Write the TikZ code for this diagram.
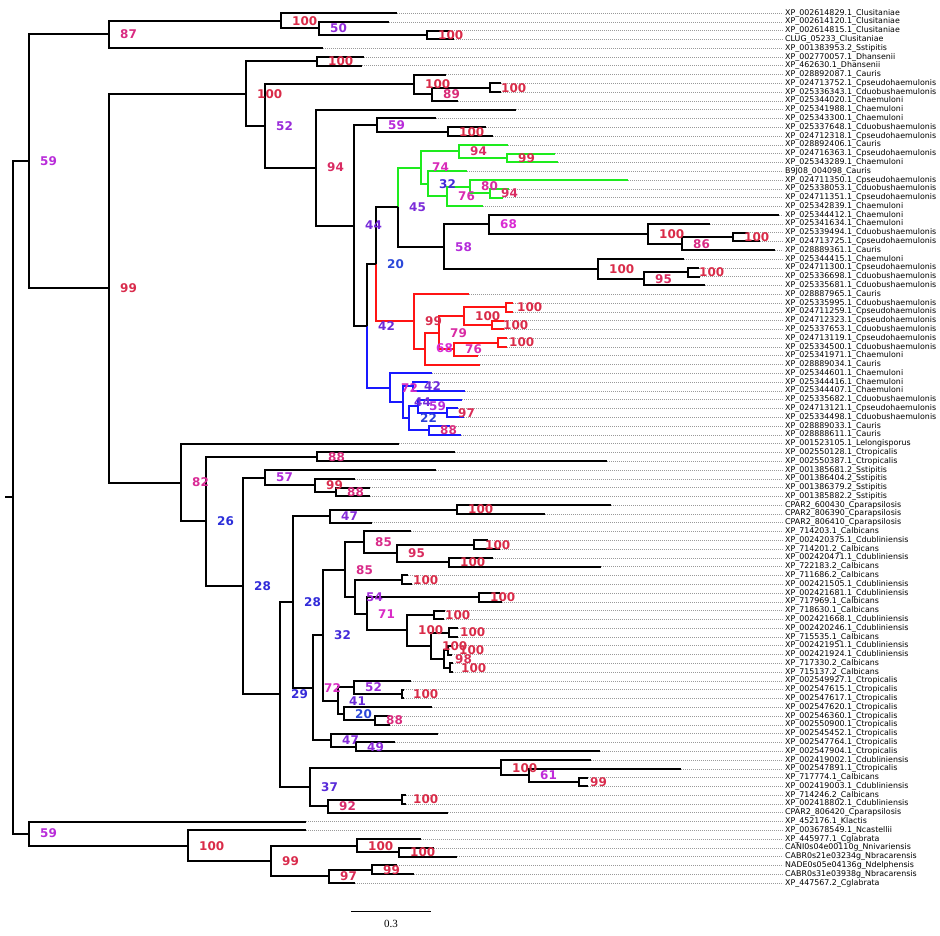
\documentclass[tikz,border=0pt]{standalone}
\usepackage{fontspec}
\usetikzlibrary{calc}
\newfontfamily\taxonfont{DejaVu Sans}
\newfontfamily\bsfont{DejaVu Sans}
\newfontfamily\barfont{Liberation Serif}
\definecolor{grn}{RGB}{30,235,30}
\definecolor{rd}{RGB}{255,20,20}
\definecolor{blu}{RGB}{25,25,255}
\tikzset{%
  branch/.style={line width=2pt,draw=#1},
  branch/.default=black,
  leader/.style={gray!80,line width=0.5pt,dash pattern=on 0.7pt off 1.3pt},
  taxon/.style={anchor=west,inner sep=0pt,font=\taxonfont\fontsize{7.9}{7.9}\selectfont},
  support/.style={anchor=west,inner sep=0pt,xshift=11pt,font=\bsfont\bfseries\fontsize{12}{12}\selectfont}
}
\newcounter{leafno}
% support value, coloured from blue (low) to red (high)
\newcommand{\bsv}[1]{%
  \pgfmathsetmacro\bshue{230+(#1-20)*1.5}%
  \definecolor{bscol}{Hsb}{\bshue,0.8,0.85}%
  \textcolor{bscol}{#1}}
% leaf: name, tip x, taxon
\newcommand{\leaf}[3]{%
  \stepcounter{leafno}%
  \pgfmathsetmacro\leafy{13+(\arabic{leafno}-1)*8.788}%
  \coordinate (#1) at (#2,\leafy);
  \node[taxon] (#1-lab) at (785,\leafy) {#3};
  \draw[leader] (#1) -- ([xshift=-2pt]#1-lab.west);}
% clade: [colour] name, x, upper child, lower child, support
\newcommand{\clade}[6][black]{%
  \path let \p1=(#4), \p2=(#5) in (#3pt,{0.5*(\y1+\y2)}) coordinate (#2);
  \draw[branch=#1] (#4) -| (#2) |- (#5);
  \node[support] (#2-bs) at (#2) {\bsv{#6}};}

\begin{document}
\begin{tikzpicture}[x=1pt,y=-1pt]
  \useasboundingbox (0,0) rectangle (940,936);
  %%% leaves
  \leaf{l1}{397}{XP\_002614829.1\_Clusitaniae}
  \leaf{l2}{389}{XP\_002614120.1\_Clusitaniae}
  \leaf{l3}{450}{XP\_002614815.1\_Clusitaniae}
  \leaf{l4}{454}{CLUG\_05233\_Clusitaniae}
  \leaf{l5}{323}{XP\_001383953.2\_Sstipitis}
  \leaf{l6}{364}{XP\_002770057.1\_Dhansenii}
  \leaf{l7}{362}{XP\_462630.1\_Dhansenii}
  \leaf{l8}{446}{XP\_028892087.1\_Cauris}
  \leaf{l9}{501}{XP\_024713752.1\_Cpseudohaemulonis}
  \leaf{l10}{501}{XP\_025336343.1\_Cduobushaemulonis}
  \leaf{l11}{458}{XP\_025344020.1\_Chaemuloni}
  \leaf{l12}{516}{XP\_025341988.1\_Chaemuloni}
  \leaf{l13}{436}{XP\_025343300.1\_Chaemuloni}
  \leaf{l14}{486}{XP\_025337648.1\_Cduobushaemulonis}
  \leaf{l15}{493}{XP\_024712318.1\_Cpseudohaemulonis}
  \leaf{l16}{508}{XP\_028892406.1\_Cauris}
  \leaf{l17}{555}{XP\_024716363.1\_Cpseudohaemulonis}
  \leaf{l18}{558}{XP\_025343289.1\_Chaemuloni}
  \leaf{l19}{467}{B9J08\_004098\_Cauris}
  \leaf{l20}{628}{XP\_024711350.1\_Cpseudohaemulonis}
  \leaf{l21}{509}{XP\_025338053.1\_Cduobushaemulonis}
  \leaf{l22}{503}{XP\_024711351.1\_Cpseudohaemulonis}
  \leaf{l23}{483}{XP\_025342839.1\_Chaemuloni}
  \leaf{l24}{779}{XP\_025344412.1\_Chaemuloni}
  \leaf{l25}{710}{XP\_025341634.1\_Chaemuloni}
  \leaf{l26}{748}{XP\_025339494.1\_Cduobushaemulonis}
  \leaf{l27}{760}{XP\_024713725.1\_Cpseudohaemulonis}
  \leaf{l28}{775}{XP\_028889361.1\_Cauris}
  \leaf{l29}{684}{XP\_025344415.1\_Chaemuloni}
  \leaf{l30}{699}{XP\_024711300.1\_Cpseudohaemulonis}
  \leaf{l31}{700}{XP\_025336698.1\_Cduobushaemulonis}
  \leaf{l32}{705}{XP\_025335681.1\_Cduobushaemulonis}
  \leaf{l33}{469}{XP\_028887965.1\_Cauris}
  \leaf{l34}{513}{XP\_025335995.1\_Cduobushaemulonis}
  \leaf{l35}{513}{XP\_024711259.1\_Cpseudohaemulonis}
  \leaf{l36}{504}{XP\_024712323.1\_Cpseudohaemulonis}
  \leaf{l37}{504}{XP\_025337653.1\_Cduobushaemulonis}
  \leaf{l38}{507}{XP\_024713119.1\_Cpseudohaemulonis}
  \leaf{l39}{507}{XP\_025334500.1\_Cduobushaemulonis}
  \leaf{l40}{478}{XP\_025341971.1\_Chaemuloni}
  \leaf{l41}{480}{XP\_028889034.1\_Cauris}
  \leaf{l42}{432}{XP\_025344601.1\_Chaemuloni}
  \leaf{l43}{428}{XP\_025344416.1\_Chaemuloni}
  \leaf{l44}{465}{XP\_025344407.1\_Chaemuloni}
  \leaf{l45}{462}{XP\_025335682.1\_Cduobushaemulonis}
  \leaf{l46}{458}{XP\_024713121.1\_Cpseudohaemulonis}
  \leaf{l47}{464}{XP\_025334498.1\_Cduobushaemulonis}
  \leaf{l48}{450}{XP\_028889033.1\_Cauris}
  \leaf{l49}{461}{XP\_028888611.1\_Cauris}
  \leaf{l50}{399}{XP\_001523105.1\_Lelongisporus}
  \leaf{l51}{455}{XP\_002550128.1\_Ctropicalis}
  \leaf{l52}{607}{XP\_002550387.1\_Ctropicalis}
  \leaf{l53}{436}{XP\_001385681.2\_Sstipitis}
  \leaf{l54}{355}{XP\_001386404.2\_Sstipitis}
  \leaf{l55}{370}{XP\_001386379.2\_Sstipitis}
  \leaf{l56}{370}{XP\_001385882.2\_Sstipitis}
  \leaf{l57}{611}{CPAR2\_600430\_Cparapsilosis}
  \leaf{l58}{545}{CPAR2\_806390\_Cparapsilosis}
  \leaf{l59}{372}{CPAR2\_806410\_Cparapsilosis}
  \leaf{l60}{411}{XP\_714203.1\_Calbicans}
  \leaf{l61}{488}{XP\_002420375.1\_Cdubliniensis}
  \leaf{l62}{500}{XP\_714201.2\_Calbicans}
  \leaf{l63}{493}{XP\_002420471.1\_Cdubliniensis}
  \leaf{l64}{601}{XP\_722183.2\_Calbicans}
  \leaf{l65}{408}{XP\_711686.2\_Calbicans}
  \leaf{l66}{412}{XP\_002421505.1\_Cdubliniensis}
  \leaf{l67}{500}{XP\_002421681.1\_Cdubliniensis}
  \leaf{l68}{502}{XP\_717969.1\_Calbicans}
  \leaf{l69}{445}{XP\_718630.1\_Calbicans}
  \leaf{l70}{444}{XP\_002421668.1\_Cdubliniensis}
  \leaf{l71}{458}{XP\_002420246.1\_Cdubliniensis}
  \leaf{l72}{458}{XP\_715535.1\_Calbicans}
  \leaf{l73}{452}{XP\_002421951.1\_Cdubliniensis}
  \leaf{l74}{452}{XP\_002421924.1\_Cdubliniensis}
  \leaf{l75}{453}{XP\_717330.2\_Calbicans}
  \leaf{l76}{453}{XP\_715137.2\_Calbicans}
  \leaf{l77}{411}{XP\_002549927.1\_Ctropicalis}
  \leaf{l78}{404}{XP\_002547615.1\_Ctropicalis}
  \leaf{l79}{404}{XP\_002547617.1\_Ctropicalis}
  \leaf{l80}{432}{XP\_002547620.1\_Ctropicalis}
  \leaf{l81}{390}{XP\_002546360.1\_Ctropicalis}
  \leaf{l82}{390}{XP\_002550900.1\_Ctropicalis}
  \leaf{l83}{438}{XP\_002545452.1\_Ctropicalis}
  \leaf{l84}{395}{XP\_002547764.1\_Ctropicalis}
  \leaf{l85}{600}{XP\_002547904.1\_Ctropicalis}
  \leaf{l86}{591}{XP\_002419002.1\_Cdubliniensis}
  \leaf{l87}{681}{XP\_002547891.1\_Ctropicalis}
  \leaf{l88}{588}{XP\_717774.1\_Calbicans}
  \leaf{l89}{588}{XP\_002419003.1\_Cdubliniensis}
  \leaf{l90}{406}{XP\_714246.2\_Calbicans}
  \leaf{l91}{406}{XP\_002418802.1\_Cdubliniensis}
  \leaf{l92}{448}{CPAR2\_806420\_Cparapsilosis}
  \leaf{l93}{306}{XP\_452176.1\_Klactis}
  \leaf{l94}{306}{XP\_003678549.1\_Ncastellii}
  \leaf{l95}{421}{XP\_445977.1\_Cglabrata}
  \leaf{l96}{434}{CANI0s04e00110g\_Nnivariensis}
  \leaf{l97}{457}{CABR0s21e03234g\_Nbracarensis}
  \leaf{l98}{397}{NADE0s05e04136g\_Ndelphensis}
  \leaf{l99}{414}{CABR0s31e03938g\_Nbracarensis}
  \leaf{l100}{355}{XP\_447567.2\_Cglabrata}
  %%% Clusitaniae
  \clade{E}{427}{l3}{l4}{100}
  \clade{D}{319}{l2}{E}{50}
  \clade{C}{281}{l1}{D}{100}
  \clade{B}{109}{C}{l5}{87}
  %%% Dhansenii and the haemulonii group
  \clade{H}{317}{l6}{l7}{100}
  \clade{L}{490}{l9}{l10}{100}
  \clade{K}{432}{L}{l11}{89}
  \clade{J}{414}{l8}{K}{100}
  \clade{P}{448}{l14}{l15}{100}
  \clade{O}{377}{l13}{P}{59}
  \clade[grn]{W}{507}{l17}{l18}{99}
  \clade[grn]{V}{459}{l16}{W}{94}
  \clade[grn]{AA}{490}{l21}{l22}{94}
  \clade[grn]{Z}{470}{l20}{AA}{80}
  \clade[grn]{Y}{447}{Z}{l23}{76}
  \clade[grn]{X}{428}{l19}{Y}{32}
  \clade[grn]{U}{421}{V}{X}{74}
  \clade{AF}{733}{l26}{l27}{100}
  \clade{AE}{682}{AF}{l28}{86}
  \clade{AD}{648}{l25}{AE}{100}
  \clade{AC}{489}{l24}{AD}{68}
  \clade{AI}{688}{l30}{l31}{100}
  \clade{AH}{644}{AI}{l32}{95}
  \clade{AG}{598}{l29}{AH}{100}
  \clade{AB}{444}{AC}{AG}{58}
  \clade{S}{398}{U}{AB}{45}
  \draw[branch=grn] (S) |- (U);
  \clade[rd]{AN}{506}{l34}{l35}{100}
  \clade[rd]{AO}{492}{l36}{l37}{100}
  \clade[rd]{AM}{464}{AN}{AO}{100}
  \clade[rd]{AQ}{498}{l38}{l39}{100}
  \clade[rd]{AP}{454}{AQ}{l40}{76}
  \clade[rd]{AL}{439}{AM}{AP}{79}
  \clade[rd]{AK}{425}{AL}{l41}{68}
  \clade[rd]{AJ}{414}{l33}{AK}{99}
  \clade{R}{376}{S}{AJ}{20}
  \draw[branch=rd] (R) |- (AJ);
  \clade[blu]{AT}{413}{l43}{l44}{42}
  \clade[blu]{AW}{447}{l46}{l47}{97}
  \clade[blu]{AV}{418}{l45}{AW}{59}
  \clade[blu]{AX}{429}{l48}{l49}{88}
  \clade[blu]{AU}{409}{AV}{AX}{22}
  \clade[blu]{AS}{403}{AT}{AU}{44}
  \clade[blu]{AR}{390}{l42}{AS}{72}
  \clade{Q}{367}{R}{AR}{42}
  \draw[branch=blu] (Q) |- (AR);
  \clade{N}{354}{O}{Q}{44}
  \clade{M}{316}{l12}{N}{94}
  \clade{I}{265}{J}{M}{52}
  \clade{G}{246}{H}{I}{100}
  %%% CUG clade
  \clade{BC}{317}{l51}{l52}{88}
  \clade{BG}{336}{l55}{l56}{88}
  \clade{BF}{315}{l54}{BG}{99}
  \clade{BE}{265}{l53}{BF}{57}
  \clade{BK}{457}{l57}{l58}{100}
  \clade{BJ}{330}{BK}{l59}{47}
  \clade{BQ}{474}{l61}{l62}{100}
  \clade{BR}{449}{l63}{l64}{100}
  \clade{BP}{397}{BQ}{BR}{95}
  \clade{BO}{364}{l60}{BP}{85}
  \clade{BT}{402}{l65}{l66}{100}
  \clade{BV}{479}{l67}{l68}{100}
  \clade{BX}{434}{l69}{l70}{100}
  \clade{BZ}{449}{l71}{l72}{100}
  \clade{CB}{448}{l73}{l74}{100}
  \clade{CC}{450}{l75}{l76}{100}
  \clade{CA}{444}{CB}{CC}{98}
  \clade{BY}{431}{BZ}{CA}{100}
  \clade{BW}{407}{BX}{BY}{100}
  \clade{BU}{367}{BV}{BW}{71}
  \clade{BS}{355}{BT}{BU}{54}
  \clade{BN}{345}{BO}{BS}{85}
  \clade{CI}{402}{l78}{l79}{100}
  \clade{CH}{354}{l77}{CI}{52}
  \clade{CK}{375}{l81}{l82}{88}
  \clade{CJ}{344}{l80}{CK}{20}
  \clade{CG}{338}{CH}{CJ}{41}
  \clade{BM}{323}{BN}{CG}{32}
  \clade{CF}{356}{l84}{l85}{49}
  \clade{CE}{331}{l83}{CF}{47}
  \clade{BL}{313}{BM}{CE}{72}
  \clade{BI}{293}{BJ}{BL}{28}
  \clade{CO}{579}{l88}{l89}{99}
  \clade{CN}{529}{l87}{CO}{61}
  \clade{CM}{501}{l86}{CN}{100}
  \clade{CQ}{402}{l90}{l91}{100}
  \clade{CP}{328}{CQ}{l92}{92}
  \clade{CL}{310}{CM}{CP}{37}
  \clade{BH}{280}{BI}{CL}{29}
  \clade{BD}{243}{BE}{BH}{28}
  \clade{BB}{206}{BC}{BD}{26}
  \clade{BA}{181}{l50}{BB}{82}
  \clade{F}{109}{G}{BA}{99}
  \clade{A}{29}{B}{F}{59}
  %%% Saccharomycetaceae outgroup
  \clade{CV}{399}{l96}{l97}{100}
  \clade{CU}{357}{l95}{CV}{100}
  \clade{CX}{372}{l98}{l99}{99}
  \clade{CW}{329}{CX}{l100}{97}
  \clade{CT}{271}{CU}{CW}{99}
  \clade{CS}{188}{l94}{CT}{100}
  \clade{CR}{29}{l93}{CS}{59}
  %%% root
  \path let \p1=(A), \p2=(CR) in (13pt,{0.5*(\y1+\y2)}) coordinate (root);
  \path (root) ++(-8,0) coordinate (base);
  \draw[branch] (A) -| (root) |- (CR);
  \draw[branch] (base) -- (root);
  %%% scale bar
  \coordinate (sb0) at (351,911);
  \coordinate (sb1) at (431,911);
  \draw[line width=1pt] (sb0) -- (sb1);
  \node[font=\barfont\fontsize{11}{11}\selectfont] (sblab) at ($(sb0)!.5!(sb1)+(0,13)$) {0.3};
\end{tikzpicture}
\end{document}
